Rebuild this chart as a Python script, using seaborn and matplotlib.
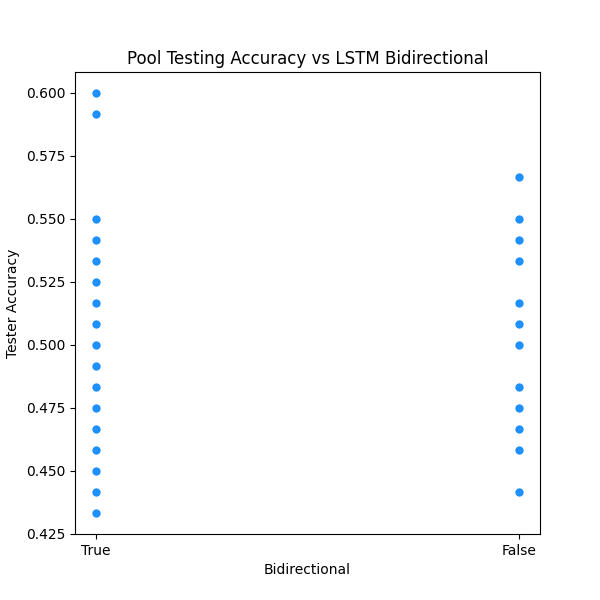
import matplotlib
matplotlib.use("Agg")
import matplotlib.pyplot as plt
import seaborn as sns
import pandas as pd

true_acc = [0.600, 0.5917, 0.550, 0.5417, 0.5333, 0.525, 0.5167, 0.5083, 0.500,
            0.4917, 0.4833, 0.475, 0.4667, 0.4583, 0.450, 0.4417, 0.4333]
false_acc = [0.5667, 0.550, 0.5417, 0.5333, 0.5167, 0.5083, 0.500, 0.4833,
             0.475, 0.4667, 0.4583, 0.4417]

df = pd.DataFrame({
    "Bidirectional": ["True"] * len(true_acc) + ["False"] * len(false_acc),
    "Tester Accuracy": true_acc + false_acc,
})

fig, ax = plt.subplots(figsize=(6, 6), dpi=100)
sns.scatterplot(data=df, x="Bidirectional", y="Tester Accuracy", color="dodgerblue",
                s=36, linewidth=0, ax=ax)
ax.set_title("Pool Testing Accuracy vs LSTM Bidirectional")
ax.set_xlabel("Bidirectional")
ax.set_ylabel("Tester Accuracy")
ax.margins(x=0.05)
plt.savefig("out.png")
plt.close()
